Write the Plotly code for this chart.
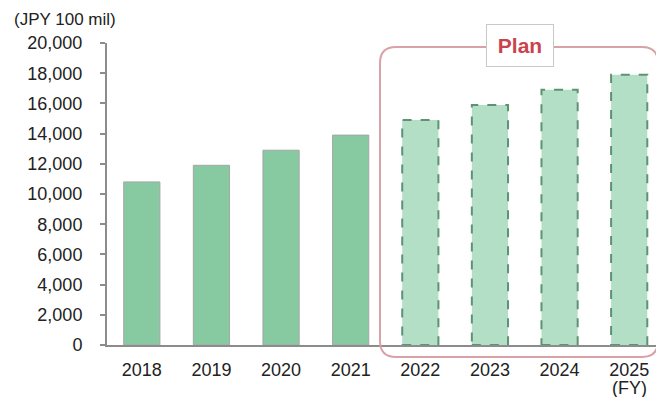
import plotly.graph_objects as go

years = ["2018", "2019", "2020", "2021", "2022", "2023", "2024", "2025"]
sales = [10800, 11900, 12900, 13900, 14900, 15900, 16900, 17900]
is_plan = [False, False, False, False, True, True, True, True]
y_ticks = list(range(0, 20001, 2000))

# page body has an 8px margin, so the figure is laid out 8px in from the corner
OFF = 8
W, H = 664 - OFF, 397 - OFF
ML, MR, MT, MB = 107 - OFF, 0, 43 - OFF, 52
PW, PH = W - ML - MR, H - MT - MB
BAR_W = 0.52

actual_col = "#87c9a1"
plan_col = "#b3dfc6"
plan_edge = "#5f9273"
font = "Liberation Sans, Arial, sans-serif"


def px_x(p):
    return (p - OFF - ML) / PW


def px_y(p):
    return (H - MB - (p - OFF)) / PH


fig = go.Figure()
fig.add_trace(go.Bar(
    x=years, y=sales, width=BAR_W,
    marker=dict(color=[plan_col if p else actual_col for p in is_plan],
                line=dict(color=["rgba(0,0,0,0)" if p else "#a6a6a6" for p in is_plan],
                          width=1)),
    hoverinfo="x+y",
))

# dashed outline on plan bars
for i, (v, p) in enumerate(zip(sales, is_plan)):
    if p:
        fig.add_shape(type="rect", xref="x", yref="y",
                      x0=i - BAR_W / 2, x1=i + BAR_W / 2, y0=0, y1=v,
                      line=dict(color=plan_edge, width=2, dash="dash"),
                      layer="above")

# rounded "Plan" frame, drawn in pixel space then mapped to paper
x0, x1, y0, y1, r = 380, 658, 47, 357, 16
rx, ry = r / PW, r / PH
a, b, c, d = px_x(x0), px_x(x1), px_y(y0), px_y(y1)
path = (f"M {a+rx},{c} L {b-rx},{c} Q {b},{c} {b},{c-ry} "
        f"L {b},{d+ry} Q {b},{d} {b-rx},{d} "
        f"L {a+rx},{d} Q {a},{d} {a},{d+ry} "
        f"L {a},{c-ry} Q {a},{c} {a+rx},{c} Z")
fig.add_shape(type="path", xref="paper", yref="paper", path=path,
              line=dict(color="#d9a2a7", width=2), layer="above")

fig.add_annotation(xref="paper", yref="paper", x=px_x(519.5), y=px_y(45),
                   text="<b>Plan</b>", showarrow=False,
                   font=dict(family=font, size=21, color="#c9434f"),
                   bgcolor="white", bordercolor="#c8c8c8", borderwidth=1,
                   width=52, height=27, borderpad=7,
                   xanchor="center", yanchor="middle")

fig.add_annotation(xref="paper", yref="paper", x=px_x(12), y=px_y(20),
                   text="(JPY 100 mil)", showarrow=False,
                   font=dict(family=font, size=17, color="#222"),
                   xanchor="left", yanchor="middle")

fig.add_annotation(xref="x", yref="paper", x=len(years) - 1, y=px_y(388),
                   text="(FY)", showarrow=False,
                   font=dict(family=font, size=18, color="#222"),
                   xanchor="center", yanchor="middle")

fig.update_layout(
    width=W, height=H, autosize=False,
    margin=dict(l=ML, r=MR, t=MT, b=MB, pad=0),
    plot_bgcolor="white", paper_bgcolor="white",
    showlegend=False,
    font=dict(family=font, size=18, color="#222"),
)
fig.update_xaxes(
    type="category",
    showline=True, linecolor="#8c8c8c", linewidth=2,
    ticks="outside", ticklen=7, tickcolor="rgba(0,0,0,0)",
    showgrid=False, tickfont=dict(size=18),
)
fig.update_yaxes(
    range=[0, 20000], tickvals=y_ticks,
    tickformat=",d", showline=True, linecolor="#8c8c8c", linewidth=2,
    ticks="outside", ticklen=5, tickcolor="#8c8c8c", tickwidth=2,
    showgrid=False, zeroline=False, ticklabelstandoff=14,
    tickfont=dict(size=18),
)

fig.write_html("out.html")
